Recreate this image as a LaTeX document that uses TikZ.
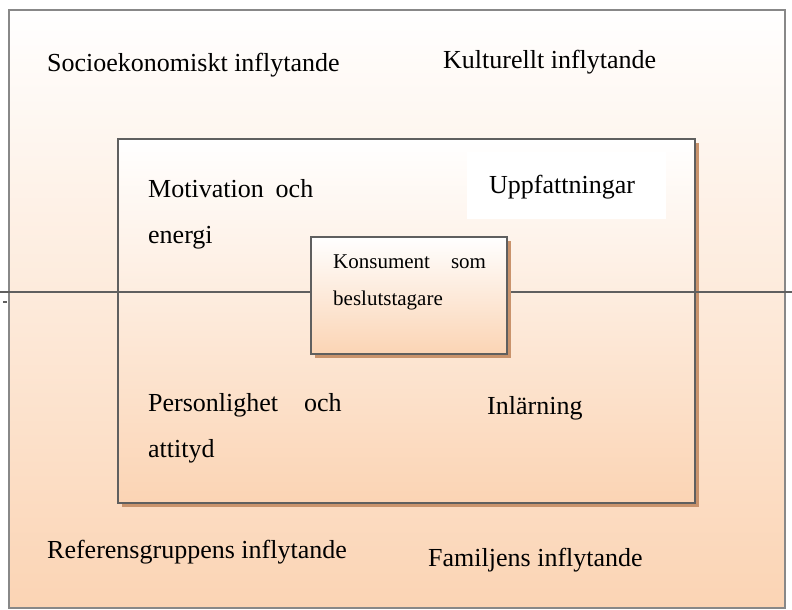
\documentclass[tikz,border=0pt]{standalone}
\usepackage{fontspec}
\setmainfont{Liberation Serif}
\usepackage{xcolor}
\usetikzlibrary{shadows, positioning}
\definecolor{peach}{HTML}{FBD4B4}
\definecolor{framegray}{HTML}{888888}
\definecolor{boxline}{HTML}{5F5F5F}
\definecolor{shadowtan}{HTML}{C9936C}

\begin{document}
\begin{tikzpicture}[x=1pt, y=-1pt,
            outer/.style={draw=framegray, line width=2.5pt, top color=white, bottom color=peach, inner sep=0pt},
            box/.style={draw=boxline, line width=2.5pt, top color=white, bottom color=peach, inner sep=0pt,
                drop shadow={shadow xshift=4pt, shadow yshift=-4pt, fill=shadowtan, opacity=1}},
            txt/.style={anchor=base west, inner sep=0pt, align=left, font=\fontsize{26}{46}\selectfont},
            smalltxt/.style={anchor=base west, inner sep=0pt, align=left, font=\fontsize{21}{37}\selectfont},
            conn/.style={draw=boxline, line width=2pt}
        ]
        \useasboundingbox (0,0) rectangle (792,610);

        % Frames (manual layout to match figure)
        \node[outer, minimum width=776pt, minimum height=598pt] (ram) at (397,309) {};
        \node[box, minimum width=577pt, minimum height=364pt] (inre) at (406.5,321) {};
        \node[fill=white, minimum width=199pt, minimum height=67pt, inner sep=0pt] (vit) at (566.5,185.5) {};

        % Line through the middle
        \coordinate (linV) at (0,292);
        \coordinate (linH) at (792,292);
        \coordinate (streck) at (3,302);
        \draw[conn] (linV) -- (linH);
        \draw[conn, line width=1.5pt] (streck) -- ++(4,0);

        \node[box, minimum width=196pt, minimum height=117pt] (kons) at (409,295.5) {};

        % Texts (base = last line)
        \node[txt] (socio) at (47,71) {Socioekonomiskt inflytande};
        \node[txt] (kultur) at (443,69) {Kulturellt inflytande};
        \node[txt] (motiv) at (148,243) {Motivation\hspace{0.46em}och\\energi};
        \node[txt] (uppf) at (489,193) {Uppfattningar};
        \node[smalltxt] (konstxt) at (333,305) {Konsument\hspace{1em}som\\beslutstagare};
        \node[txt] (person) at (148,457) {Personlighet\hspace{1em}och\\attityd};
        \node[txt] (inlar) at (487,414) {Inlärning};
        \node[txt] (refer) at (47,558) {Referensgruppens inflytande};
        \node[txt] (familj) at (428,566) {Familjens inflytande};

    \end{tikzpicture}
\end{document}
